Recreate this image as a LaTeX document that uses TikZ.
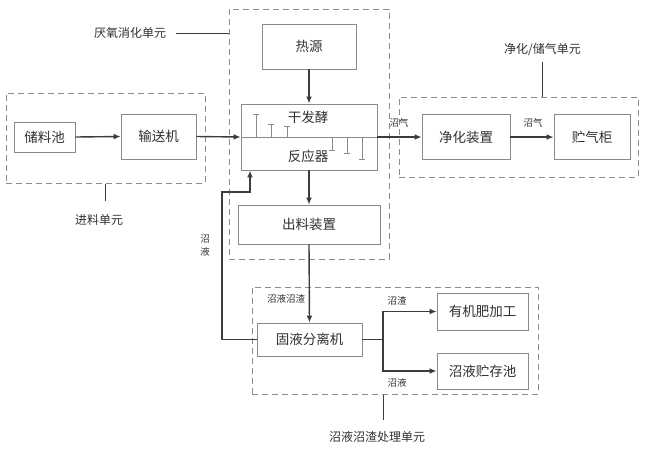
\documentclass[tikz,border=0pt]{standalone}
\usepackage{fontspec}
\setmainfont{Noto Sans CJK SC}
\usetikzlibrary{arrows.meta}
\definecolor{boxc}{HTML}{8A8A8A}
\definecolor{linec}{HTML}{3C3C3C}
\definecolor{txtc}{HTML}{303030}
\definecolor{dashc}{HTML}{8C8C8C}
\tikzset{
  box/.style={draw=boxc, line width=0.9pt, text=txtc, font=\fontsize{13.5}{15}\selectfont, inner sep=0pt},
  dbox/.style={draw=dashc, line width=1pt, dash pattern=on 6pt off 4pt, inner sep=0pt},
  arr/.style={draw=linec, line width=1.4pt, -{Latex[length=7pt,width=6pt]}},
  plain/.style={draw=linec, line width=1.2pt},
  lead/.style={draw=linec, line width=1pt},
  small/.style={text=txtc, font=\fontsize{9.5}{11}\selectfont, inner sep=0pt},
  unit/.style={text=txtc, font=\fontsize{12}{14}\selectfont, inner sep=0pt},
  tick/.style={draw=boxc, line width=0.9pt},
}
\begin{document}
\begin{tikzpicture}[x=1pt,y=-1pt]
\useasboundingbox (0,0) rectangle (647,451);
% dashed unit boxes
\node[dbox, minimum width=199pt, minimum height=90pt] (feed) at (105.5,138) {};
\node[dbox, minimum width=160pt, minimum height=250pt] (anaer) at (309,134) {};
\node[dbox, minimum width=239pt, minimum height=80pt] (purify) at (518.5,137) {};
\node[dbox, minimum width=286pt, minimum height=107pt] (resid) at (395,340.5) {};
% boxes
\node[box, minimum width=94pt, minimum height=45pt] (heat) at (309,46.5) {热源};
\node[box, minimum width=136pt, minimum height=66pt] (reactor) at (309,137) {};
\node[box, draw=none, fill=none] (rtop) at (308,117) {干发酵};
\node[box, draw=none, fill=none] (rbot) at (308,156) {反应器};
\node[box, minimum width=61pt, minimum height=30pt] (store) at (44.5,137) {储料池};
\node[box, minimum width=75pt, minimum height=45pt] (conv) at (158.5,136.5) {输送机};
\node[box, minimum width=142pt, minimum height=39pt] (out) at (309,224.5) {出料装置};
\node[box, minimum width=88pt, minimum height=45pt] (clean) at (466,137) {净化装置};
\node[box, minimum width=76pt, minimum height=45pt] (tank) at (592,137) {贮气柜};
\node[box, minimum width=105pt, minimum height=33pt] (sep) at (309.5,339.5) {固液分离机};
\node[box, minimum width=91pt, minimum height=37pt] (fert) at (482.5,311.5) {有机肥加工};
\node[box, minimum width=91pt, minimum height=36pt] (pool) at (482.5,371) {沼液贮存池};
% reactor inner line and ticks
\draw[tick] (reactor.west) -- (reactor.east);
\foreach \x/\y in {256/114, 271/124, 287/126}{
  \draw[tick] (\x,137) -- (\x,\y) (\x-3,\y) -- (\x+3,\y);
}
\foreach \x/\y in {332/150, 347/153, 362/159}{
  \draw[tick] (\x,137) -- (\x,\y) (\x-3,\y) -- (\x+3,\y);
}
% arrows
\draw[arr] (heat.south) -- (reactor.north);
\draw[arr] (reactor.south) -- (out.north);
\draw[arr] (out.south) -- (sep.north);
\draw[arr] (store.east) -- (conv.west);
\draw[arr] (conv.east) -- (reactor.west);
\draw[arr] (reactor.east) -- (clean.west);
\draw[arr] (clean.east) -- (tank.west);
\coordinate (r1) at (222,192);
\coordinate (r2) at (250,192);
\draw[arr] (sep.west) -| (r1) -- (r2) -- (r2 |- reactor.south);
\coordinate (br) at (383,339.5);
\draw[plain] (sep.east) -- (br);
\draw[arr] (br) |- (fert.west);
\draw[arr] (br) |- (pool.west);
% small labels
\node[small] (g1) at (399,123) {沼气};
\node[small] (g2) at (533,123) {沼气};
\node[small] (ls) at (286,299) {沼液沼渣};
\node[small] (zz) at (397,301) {沼渣};
\node[small] (zy) at (397,383) {沼液};
\node[small, align=center] (ret) at (205,245) {沼\\[2pt]液};
% unit labels with leaders
\node[unit] (lA) at (130,33) {厌氧消化单元};
\draw[lead] ([xshift=10pt]lA.east) -- (lA.east -| anaer.west);
\node[unit] (lF) at (99,220) {进料单元};
\draw[lead] (feed.south) -- ++(0,17);
\node[unit] (lP) at (542.5,50) {净化/储气单元};
\draw[lead] (lP.south) ++(0,6) -- (lP.south |- purify.north);
\node[unit] (lR) at (377,437) {沼液沼渣处理单元};
\draw[lead] (resid.south -| br) -- ++(0,25);
\end{tikzpicture}
\end{document}
